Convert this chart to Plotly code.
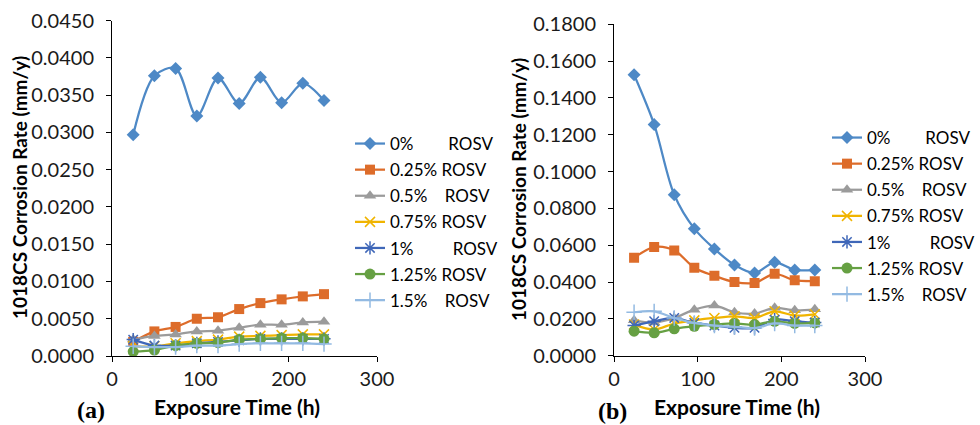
import plotly.graph_objects as go

# ---------------- data ----------------
hours = [24, 48, 72, 96, 120, 144, 168, 192, 216, 240]
series_labels = ["0%", "0.25%", "0.5%", "0.75%", "1%", "1.25%", "1.5%"]

# panel (a)
a_0 = [0.0297, 0.0376, 0.0386, 0.0322, 0.0373, 0.0339, 0.0374, 0.0340, 0.0366, 0.0343]
a_025 = [0.0019, 0.0033, 0.0039, 0.0050, 0.0052, 0.0063, 0.0071, 0.0076, 0.0080, 0.0083]
a_05 = [0.0022, 0.0027, 0.0029, 0.0033, 0.0034, 0.0038, 0.0042, 0.0042, 0.0045, 0.0046]
a_075 = [0.0013, 0.0013, 0.0017, 0.0020, 0.0022, 0.0026, 0.0027, 0.0028, 0.0029, 0.0029]
a_1 = [0.0022, 0.0014, 0.0014, 0.0017, 0.0019, 0.0021, 0.0023, 0.0023, 0.0023, 0.0023]
a_125 = [0.0006, 0.0008, 0.0014, 0.0017, 0.0018, 0.0022, 0.0023, 0.0024, 0.0024, 0.0023]
a_15 = [0.0013, 0.0012, 0.0012, 0.0014, 0.0014, 0.0016, 0.0017, 0.0017, 0.0017, 0.0016]

# panel (b)
b_0 = [0.1526, 0.1256, 0.0874, 0.0690, 0.0580, 0.0493, 0.0449, 0.0507, 0.0466, 0.0466]
b_025 = [0.0532, 0.0590, 0.0572, 0.0478, 0.0434, 0.0400, 0.0395, 0.0445, 0.0410, 0.0405]
b_05 = [0.0192, 0.0180, 0.0205, 0.0250, 0.0272, 0.0236, 0.0229, 0.0260, 0.0247, 0.0252]
b_075 = [0.0169, 0.0142, 0.0175, 0.0192, 0.0205, 0.0214, 0.0205, 0.0241, 0.0218, 0.0225]
b_1 = [0.0164, 0.0187, 0.0205, 0.0178, 0.0164, 0.0151, 0.0151, 0.0196, 0.0187, 0.0180]
b_125 = [0.0133, 0.0124, 0.0146, 0.0160, 0.0169, 0.0175, 0.0169, 0.0187, 0.0175, 0.0178]
b_15 = [0.0236, 0.0241, 0.0205, 0.0178, 0.0164, 0.0157, 0.0150, 0.0175, 0.0164, 0.0164]

x_ticks = [0, 100, 200, 300]

# ---------------- styles ----------------
NB = "\u00a0"
legend_names = [
    "0%" + NB * 8 + "ROSV",
    "0.25%" + NB + "ROSV",
    "0.5%" + NB * 4 + "ROSV",
    "0.75%" + NB + "ROSV",
    "1%" + NB * 9 + "ROSV",
    "1.25%" + NB + "ROSV",
    "1.5%" + NB * 4 + "ROSV",
]
colors = ["#4E89C6", "#DD6C2A", "#9B9B9B", "#F0B400", "#3F67B8", "#66A043", "#93BAE2"]
markers = [
    dict(symbol="diamond", size=10),
    dict(symbol="square", size=10),
    dict(symbol="triangle-up", size=11),
    dict(symbol="x-thin-open", size=10, line=dict(width=1.5)),
    dict(symbol="asterisk-open", size=11, line=dict(width=1.5)),
    dict(symbol="circle", size=11),
    dict(symbol="cross-thin-open", size=11, line=dict(width=1.5)),
]

FONT = "Lato, 'Open Sans', sans-serif"
W, H = 980, 425


def px(x):
    return x / W


def py(y):
    return 1 - y / H


fig = go.Figure()

panels = [
    ([a_0, a_025, a_05, a_075, a_1, a_125, a_15], "x", "y", "legend", "a"),
    ([b_0, b_025, b_05, b_075, b_1, b_125, b_15], "x2", "y2", "legend2", "b"),
]
for data, xa, ya, leg, tag in panels:
    for i, vals in enumerate(data):
        m = dict(markers[i])
        m["color"] = colors[i]
        if "line" in m:
            m["line"] = dict(m["line"], color=colors[i])
        fig.add_trace(go.Scatter(
            x=hours, y=vals, mode="lines+markers",
            name=legend_names[i],
            line=dict(color=colors[i], width=2.25, shape="spline", smoothing=0.9),
            marker=m,
            xaxis=xa, yaxis=ya, legend=leg, legendgroup=f"{tag}{i}",
        ))

axis_common = dict(
    showgrid=False, zeroline=False, showline=True, linecolor="#000000", linewidth=1,
    ticks="outside", ticklen=5, tickcolor="#000000", tickwidth=1,
    tickfont=dict(family=FONT, size=20, color="#1a1a1a"), automargin=False,
)

legend_common = dict(yanchor="top", traceorder="grouped",
                     tracegroupgap=1, font=dict(family=FONT, size=17, color="#000000"),
                     bgcolor="rgba(0,0,0,0)", itemwidth=30)

fig.update_layout(
    width=W, height=H,
    margin=dict(l=0, r=0, t=0, b=0),
    paper_bgcolor="white", plot_bgcolor="white",
    font=dict(family=FONT, color="#000000"),
    xaxis=dict(domain=[px(112), px(377)], range=[0, 300], tickvals=x_ticks, anchor="y", **axis_common),
    yaxis=dict(domain=[py(356), py(20.7)], range=[0, 0.045], dtick=0.005, tickformat=".4f",
               anchor="x", ticklabelstandoff=8, **axis_common),
    xaxis2=dict(domain=[px(614), px(865)], range=[0, 300], tickvals=x_ticks, anchor="y2", **axis_common),
    yaxis2=dict(domain=[py(355.7), py(24.3)], range=[0, 0.18], dtick=0.02, tickformat=".4f",
                anchor="x2", ticklabelstandoff=8, **axis_common),
    legend=dict(x=px(350), y=py(126), xanchor="left", **legend_common),
    legend2=dict(x=1.0, y=py(120), xanchor="right", **legend_common),
    showlegend=True,
)

xt_font = dict(family=FONT, size=21, color="#000000", weight="bold")
yt_font = dict(family=FONT, size=19, color="#000000", weight="bold")
lab_font = dict(family="Liberation Serif, serif", size=24, color="#000000", weight="bold")
ann = [
    dict(text="Exposure Time (h)", x=px(237), y=py(406), font=xt_font),
    dict(text="Exposure Time (h)", x=px(737), y=py(406), font=xt_font),
    dict(text="1018CS Corrosion Rate (mm/y)", x=px(19), y=py(188), textangle=-90, font=yt_font),
    dict(text="1018CS Corrosion Rate (mm/y)", x=px(519), y=py(190), textangle=-90, font=yt_font),
    dict(text="(a)", x=px(91), y=py(410), font=lab_font),
    dict(text="(b)", x=px(612), y=py(411), font=lab_font),
]
for a in ann:
    fig.add_annotation(xref="paper", yref="paper", showarrow=False,
                       xanchor="center", yanchor="middle", **a)

fig.write_html("out.html")
